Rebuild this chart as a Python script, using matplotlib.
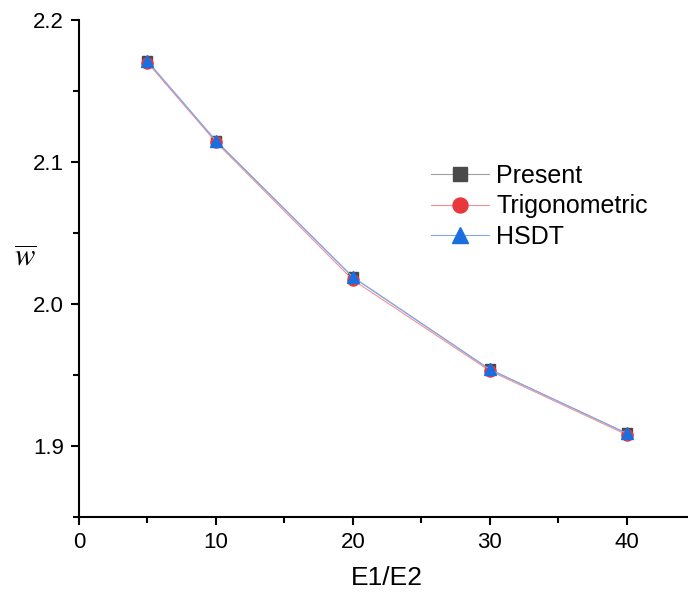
import matplotlib
matplotlib.use("Agg")
import matplotlib.pyplot as plt
from matplotlib.ticker import MultipleLocator

plt.rcParams['font.family'] = ['Liberation Sans', 'DejaVu Sans']
plt.rcParams['mathtext.fontset'] = 'stix'

ratio = [5, 10, 20, 30, 40]
present = [2.171, 2.115, 2.019, 1.954, 1.909]
trigonometric = [2.170, 2.114, 2.017, 1.953, 1.908]
hsdt = [2.171, 2.115, 2.019, 1.954, 1.909]

fig = plt.figure(figsize=(6.88, 5.97), dpi=100)
ax = fig.add_axes([79/688, (597-517)/597, (695-79)/688, (517-20)/597])

ax.plot(ratio, present, color='#a0a0a0', lw=0.8, marker='s', ms=7.5,
        mfc='#4a4a4a', mec='#4a4a4a', label='Present')
ax.plot(ratio, trigonometric, color='#f49090', lw=0.8, marker='o', ms=8,
        mfc='#e8383d', mec='#e8383d', label='Trigonometric')
ax.plot(ratio, hsdt, color='#80a8f0', lw=0.8, marker='^', ms=9,
        mfc='#1a6ee0', mec='#1a6ee0', label='HSDT')

ax.set_xlim(0, 45)
ax.set_ylim(1.85, 2.2)
ax.xaxis.set_major_locator(MultipleLocator(10))
ax.xaxis.set_minor_locator(MultipleLocator(5))
ax.yaxis.set_minor_locator(MultipleLocator(0.05))
ax.set_yticks([1.9, 2.0, 2.1, 2.2])
ax.yaxis.set_major_formatter(plt.FuncFormatter(lambda v, p: f"{v:.1f}"))

for s in ['top', 'right']:
    ax.spines[s].set_visible(False)
for s in ['left', 'bottom']:
    ax.spines[s].set_linewidth(1.5)
ax.tick_params(which='major', length=6, width=1.5, labelsize=16, direction='out', pad=5)
ax.tick_params(which='minor', length=4, width=1.5, direction='out')

ax.set_xlabel('E1/E2', fontsize=19, labelpad=9)
ax.set_ylabel(r'$\overline{w}$', fontsize=22, rotation=0, va='center')
ax.yaxis.set_label_coords(-0.088, 0.52)

leg = ax.legend(loc='center left', bbox_to_anchor=(0.535, 0.625), frameon=False,
                fontsize=18, handlelength=2.3, handletextpad=0.3, labelspacing=0.25,
                markerscale=1.35)

fig.savefig('out.png', dpi=100)
